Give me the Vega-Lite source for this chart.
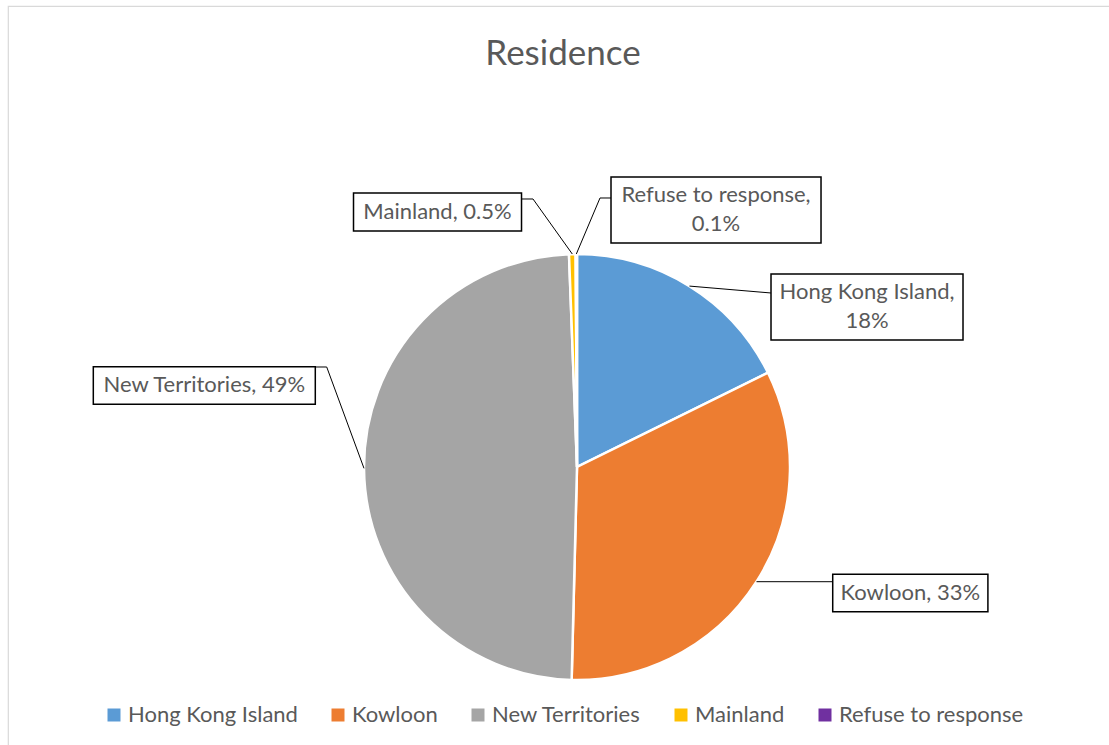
{
  "$schema": "https://vega.github.io/schema/vega-lite/v6.json",
  "width": 1102,
  "height": 740,
  "autosize": {"type": "none"},
  "padding": {"left": 8, "top": 6, "right": 0, "bottom": 0},
  "background": "white",
  "title": {
    "text": "Residence",
    "orient": "top",
    "anchor": "middle",
    "frame": "group",
    "offset": -59,
    "baseline": "alphabetic",
    "dx": 4,
    "dy": 35,
    "font": "Lato",
    "fontSize": 35,
    "fontWeight": "normal",
    "color": "#595959"
  },
  "config": {"view": {"stroke": "#d9d9d9", "strokeWidth": 1.2}},
  "data": {
    "values": [
      {"category": "Hong Kong Island", "value": 17.7, "label": "Hong Kong Island,\n18%"},
      {"category": "Kowloon", "value": 32.7, "label": "Kowloon, 33%"},
      {"category": "New Territories", "value": 49.0, "label": "New Territories, 49%"},
      {"category": "Mainland", "value": 0.5, "label": "Mainland, 0.5%"},
      {"category": "Refuse to response", "value": 0.1, "label": "Refuse to response,\n0.1%"}
    ]
  },
  "transform": [
    {"joinaggregate": [{"op": "sum", "field": "value", "as": "total"}]},
    {"window": [{"op": "sum", "field": "value", "as": "cum"}, {"op": "row_number", "as": "rank"}], "frame": [null, 0]},
    {"calculate": "2*PI*(datum.cum - datum.value/2)/datum.total", "as": "mid"},
    {"calculate": "sin(datum.mid)", "as": "anchorX"},
    {"calculate": "cos(datum.mid)", "as": "anchorY"},
    {"calculate": "datum.category === 'Hong Kong Island' ? [1.3615, 0.7512, 0.4507, 0.1549, 0.9108, 0.8169, 0.9108, 0.8169] : datum.category === 'Kowloon' ? [1.5648, -0.5915, 0.3643, 0.0878, 1.2019, -0.5386, 1.2019, -0.5386] : datum.category === 'New Territories' ? [-1.7498, 0.3826, 0.5211, 0.0883, -1.1751, 0.4695, -1.2300, 0.4695] : datum.category === 'Mainland' ? [-0.6549, 1.1972, 0.3944, 0.0892, -0.2066, 1.2582, -0.2582, 1.2582] : [0.6526, 1.2066, 0.4930, 0.1549, 0.1080, 1.2629, 0.1596, 1.2629]", "as": "L"},
    {"calculate": "datum.L[0]", "as": "boxX"},
    {"calculate": "datum.L[1]", "as": "boxY"},
    {"calculate": "datum.L[1] + (indexof(datum.label, '\\n') >= 0 ? 14.5/213 : 0)", "as": "textY"},
    {"calculate": "datum.L[0] - datum.L[2]", "as": "boxX0"},
    {"calculate": "datum.L[0] + datum.L[2]", "as": "boxX1"},
    {"calculate": "datum.L[1] - datum.L[3]", "as": "boxY0"},
    {"calculate": "datum.L[1] + datum.L[3]", "as": "boxY1"},
    {"calculate": "datum.L[4]", "as": "elbowX"},
    {"calculate": "datum.L[5]", "as": "elbowY"},
    {"calculate": "datum.L[6]", "as": "attachX"},
    {"calculate": "datum.L[7]", "as": "attachY"}
  ],
  "layer": [
    {
      "mark": {"type": "arc", "radius": 213, "stroke": "white", "strokeWidth": 2.5},
      "encoding": {
        "theta": {"field": "value", "type": "quantitative", "stack": true},
        "order": {"field": "rank", "type": "quantitative"},
        "color": {
          "field": "category",
          "type": "nominal",
          "scale": {
            "domain": ["Hong Kong Island", "Kowloon", "New Territories", "Mainland", "Refuse to response"],
            "range": ["#5B9BD5", "#ED7D31", "#A5A5A5", "#FFC000", "#7030A0"]
          },
          "legend": {
            "title": null,
            "orient": "none",
            "direction": "horizontal",
            "legendX": 95,
            "legendY": 698,
            "symbolType": "square",
            "symbolSize": 169,
            "symbolStrokeWidth": 0,
            "labelFont": "Lato",
            "labelFontSize": 22,
            "labelColor": "#595959",
            "labelOffset": 3,
            "columnPadding": 29,
            "padding": 0,
            "labelLimit": 0
          }
        },
        "x": {"datum": 0, "type": "quantitative", "scale": {"domain": [-2.6714, 2.5023], "nice": false, "zero": false}, "axis": null},
        "y": {"datum": 0, "type": "quantitative", "scale": {"domain": [-1.3099, 2.1643], "nice": false, "zero": false}, "axis": null}
      }
    },
    {
      "mark": {"type": "rule", "color": "black", "strokeWidth": 1},
      "encoding": {
        "x": {"field": "anchorX", "type": "quantitative", "scale": {"domain": [-2.6714, 2.5023], "nice": false, "zero": false}, "axis": null},
        "y": {"field": "anchorY", "type": "quantitative", "scale": {"domain": [-1.3099, 2.1643], "nice": false, "zero": false}, "axis": null},
        "x2": {"field": "elbowX"},
        "y2": {"field": "elbowY"}
      }
    },
    {
      "mark": {"type": "rule", "color": "black", "strokeWidth": 1},
      "encoding": {
        "x": {"field": "elbowX", "type": "quantitative", "scale": {"domain": [-2.6714, 2.5023], "nice": false, "zero": false}, "axis": null},
        "y": {"field": "elbowY", "type": "quantitative", "scale": {"domain": [-1.3099, 2.1643], "nice": false, "zero": false}, "axis": null},
        "x2": {"field": "attachX"},
        "y2": {"field": "attachY"}
      }
    },
    {
      "mark": {"type": "rect", "fill": "white", "stroke": "black", "strokeWidth": 1.5},
      "encoding": {
        "x": {"field": "boxX0", "type": "quantitative", "scale": {"domain": [-2.6714, 2.5023], "nice": false, "zero": false}, "axis": null},
        "y": {"field": "boxY0", "type": "quantitative", "scale": {"domain": [-1.3099, 2.1643], "nice": false, "zero": false}, "axis": null},
        "x2": {"field": "boxX1"},
        "y2": {"field": "boxY1"}
      }
    },
    {
      "mark": {"type": "text", "font": "Lato", "fontSize": 22, "color": "#595959", "align": "center", "baseline": "middle", "lineBreak": "\n", "lineHeight": 29},
      "encoding": {
        "x": {"field": "boxX", "type": "quantitative", "scale": {"domain": [-2.6714, 2.5023], "nice": false, "zero": false}, "axis": null},
        "y": {"field": "textY", "type": "quantitative", "scale": {"domain": [-1.3099, 2.1643], "nice": false, "zero": false}, "axis": null},
        "text": {"field": "label", "type": "nominal"}
      }
    }
  ]
}
